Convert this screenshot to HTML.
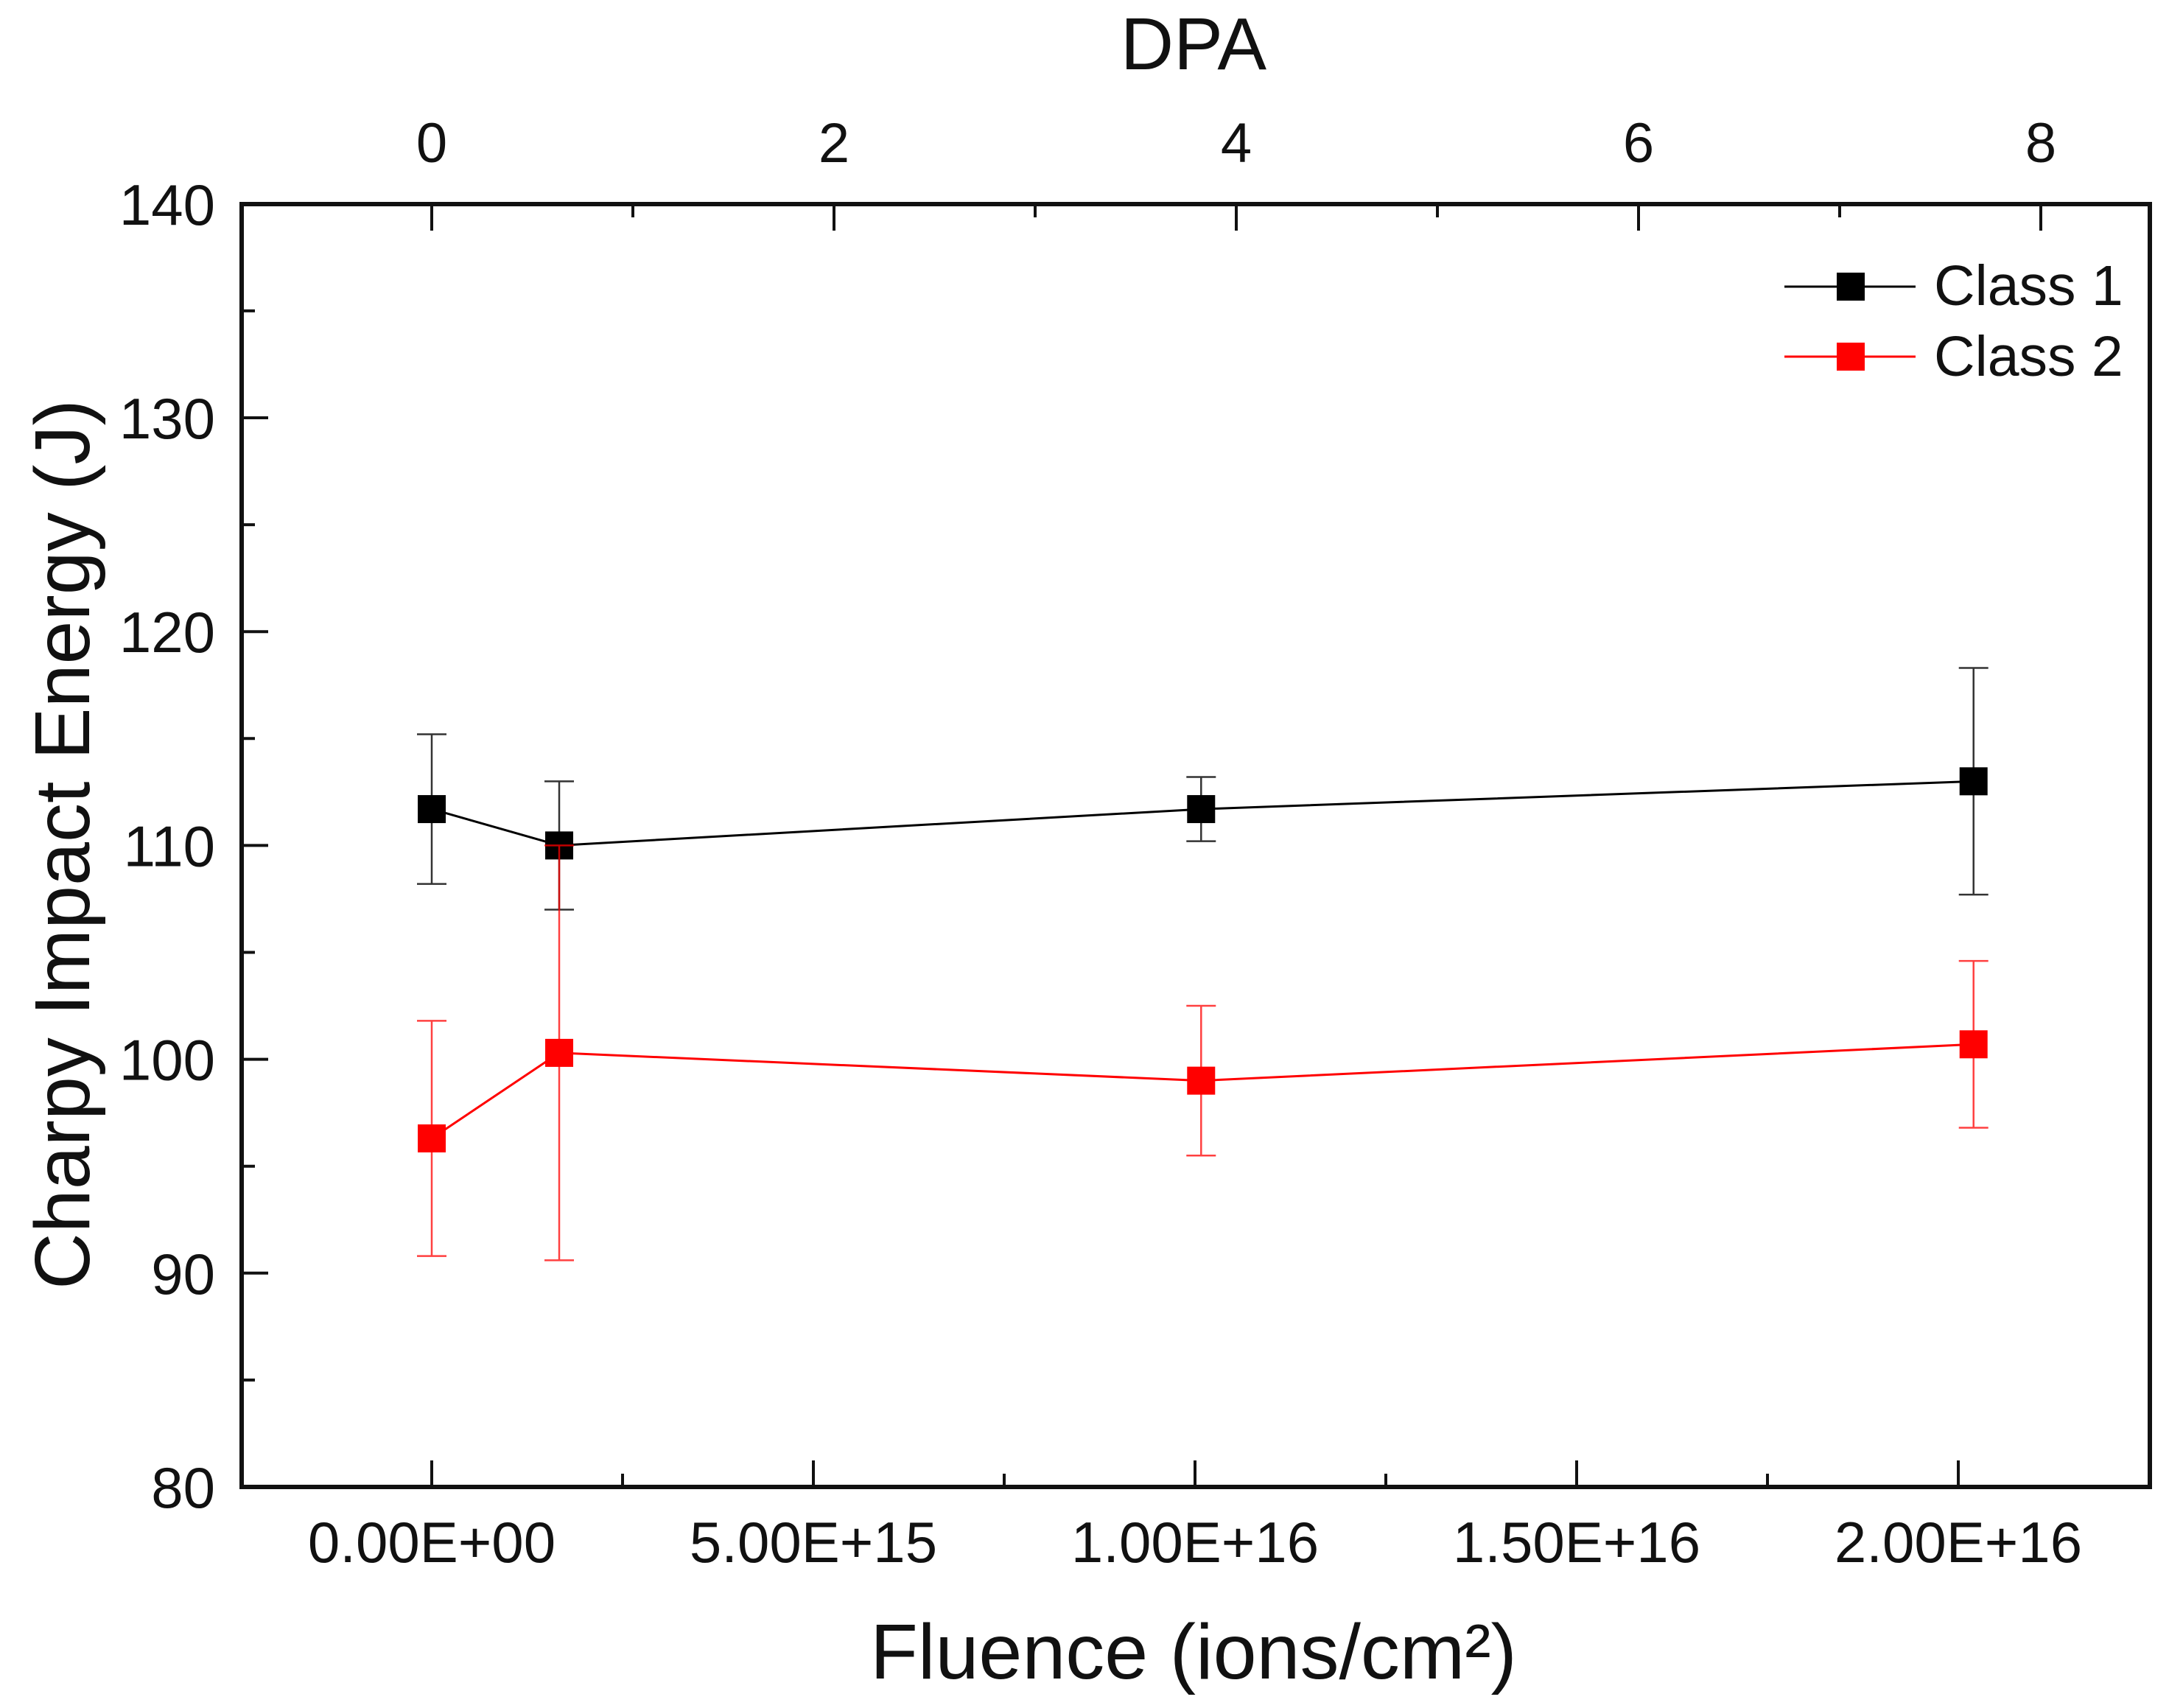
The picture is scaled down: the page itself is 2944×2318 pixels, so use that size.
<!DOCTYPE html>
<html><head><meta charset="utf-8"><style>
html,body{margin:0;padding:0;background:#fff}
svg text{font-family:"Liberation Sans",Arial,sans-serif;fill:#111}
</style></head><body>
<svg id="chart" width="2944" height="2313" xmlns="http://www.w3.org/2000/svg">
<rect x="328" y="277" width="2590" height="1741" fill="none" stroke="#111" stroke-width="6"/>
<g id="ticks"></g><g id="series"></g>
<text x="1620" y="94" font-size="100" text-anchor="middle">DPA</text>
<text x="1620" y="2278" font-size="106" text-anchor="middle">Fluence (ions/cm²)</text>
<text transform="translate(85,1146) rotate(-90)" font-size="106" text-anchor="middle" dominant-baseline="central">Charpy Impact Energy (J)</text>
<g>
<line x1="2422" y1="389" x2="2600" y2="389" stroke="#000" stroke-width="3"/>
<rect x="2493" y="370" width="38" height="38" fill="#000"/>
<text x="2625" y="414" font-size="77">Class 1</text>
<line x1="2422" y1="484" x2="2600" y2="484" stroke="#f00" stroke-width="3"/>
<rect x="2493" y="465" width="38" height="38" fill="#f00"/>
<text x="2625" y="510" font-size="77">Class 2</text>
</g>
</svg>
<script>
const fluence = [0, 1.67e15, 1.008e16, 2.02e16];
const class1 = [111.7, 110.0, 111.7, 113.0];
const class1Err = [3.5, 3.0, 1.5, 5.3];
const class2 = [96.3, 100.3, 99.0, 100.7];
const class2Err = [5.5, 9.7, 3.5, 3.9];
const yTicks = [80, 90, 100, 110, 120, 130, 140];
const xTicks = [0, 5e15, 1e16, 1.5e16, 2e16];
const xTickLabels = ["0.00E+00", "5.00E+15", "1.00E+16", "1.50E+16", "2.00E+16"];
const dpaTicks = [0, 2, 4, 6, 8];

const NS = "http://www.w3.org/2000/svg";
const L = 328, R = 2918, T = 277, B = 2018;
function xs(v){ return 586 + v / 1e16 * 1036; }
function dx(v){ return 586 + v * 273; }
function ys(v){ return 2018 - (v - 80) * 29.02; }
function mk(tag, attrs, parent){ const e = document.createElementNS(NS, tag); for (const k in attrs) e.setAttribute(k, attrs[k]); parent.appendChild(e); return e; }
const tg = document.getElementById('ticks');
const sg = document.getElementById('series');
for (let v = 80; v <= 140; v += 5) {
  const maj = v % 10 === 0;
  const len = maj ? 36 : 18;
  const y = ys(v);
  const t = mk('line', {x1: L, y1: y, x2: L + len, y2: y, stroke: '#111', 'stroke-width': 4}, tg);
  
  
}
yTicks.forEach(v => {
  const t = mk('text', {x: 292, y: ys(v) + 28, 'font-size': 78, 'text-anchor': 'end'}, tg);
  t.textContent = v;
  
  
});
for (let v = -2.5e15; v <= 2.25e16; v += 2.5e15) {
  const x = xs(v);
  if (x <= L + 2 || x >= R - 2) continue;
  const maj = Math.round(v / 2.5e15) % 2 === 0;
  const len = maj ? 36 : 18;
  const t = mk('line', {x1: x, y1: B, x2: x, y2: B - len, stroke: '#111', 'stroke-width': 4}, tg);
  
  
}
xTicks.forEach((v, i) => {
  const t = mk('text', {x: xs(v), y: 2120, 'font-size': 78, 'text-anchor': 'middle'}, tg);
  t.textContent = xTickLabels[i];
  
  
});
for (let v = -1; v <= 8; v += 1) {
  const x = dx(v);
  if (x <= L + 2 || x >= R - 2) continue;
  const maj = v % 2 === 0;
  const len = maj ? 36 : 18;
  const t = mk('line', {x1: x, y1: T, x2: x, y2: T + len, stroke: '#111', 'stroke-width': 4}, tg);
  
  
}
dpaTicks.forEach(v => {
  const t = mk('text', {x: dx(v), y: 220, 'font-size': 76, 'text-anchor': 'middle'}, tg);
  t.textContent = v;
  
  
});
function drawSeries(vals, errs, color, name){
  const pts = fluence.map((f, i) => xs(f) + ',' + ys(vals[i])).join(' ');
  const pl = mk('polyline', {points: pts, fill: 'none', stroke: color, 'stroke-width': 3}, sg);
  
  
  fluence.forEach((f, i) => {
    const x = xs(f), y1 = ys(vals[i] + errs[i]), y2 = ys(vals[i] - errs[i]);
    const eb = mk('path', {d: `M${x},${y1}V${y2}M${x-20},${y1}H${x+20}M${x-20},${y2}H${x+20}`, stroke: color, 'stroke-width': 2.5, fill: 'none', opacity: color === '#000' ? 0.8 : 0.75}, sg);
    
    
  });
  fluence.forEach((f, i) => {
    const m = mk('rect', {x: xs(f) - 19, y: ys(vals[i]) - 19, width: 38, height: 38, fill: color}, sg);
    
    
  });
}
drawSeries(class1, class1Err, '#000', 'class-1');
drawSeries(class2, class2Err, '#f00', 'class-2');
</script>
</body></html>
